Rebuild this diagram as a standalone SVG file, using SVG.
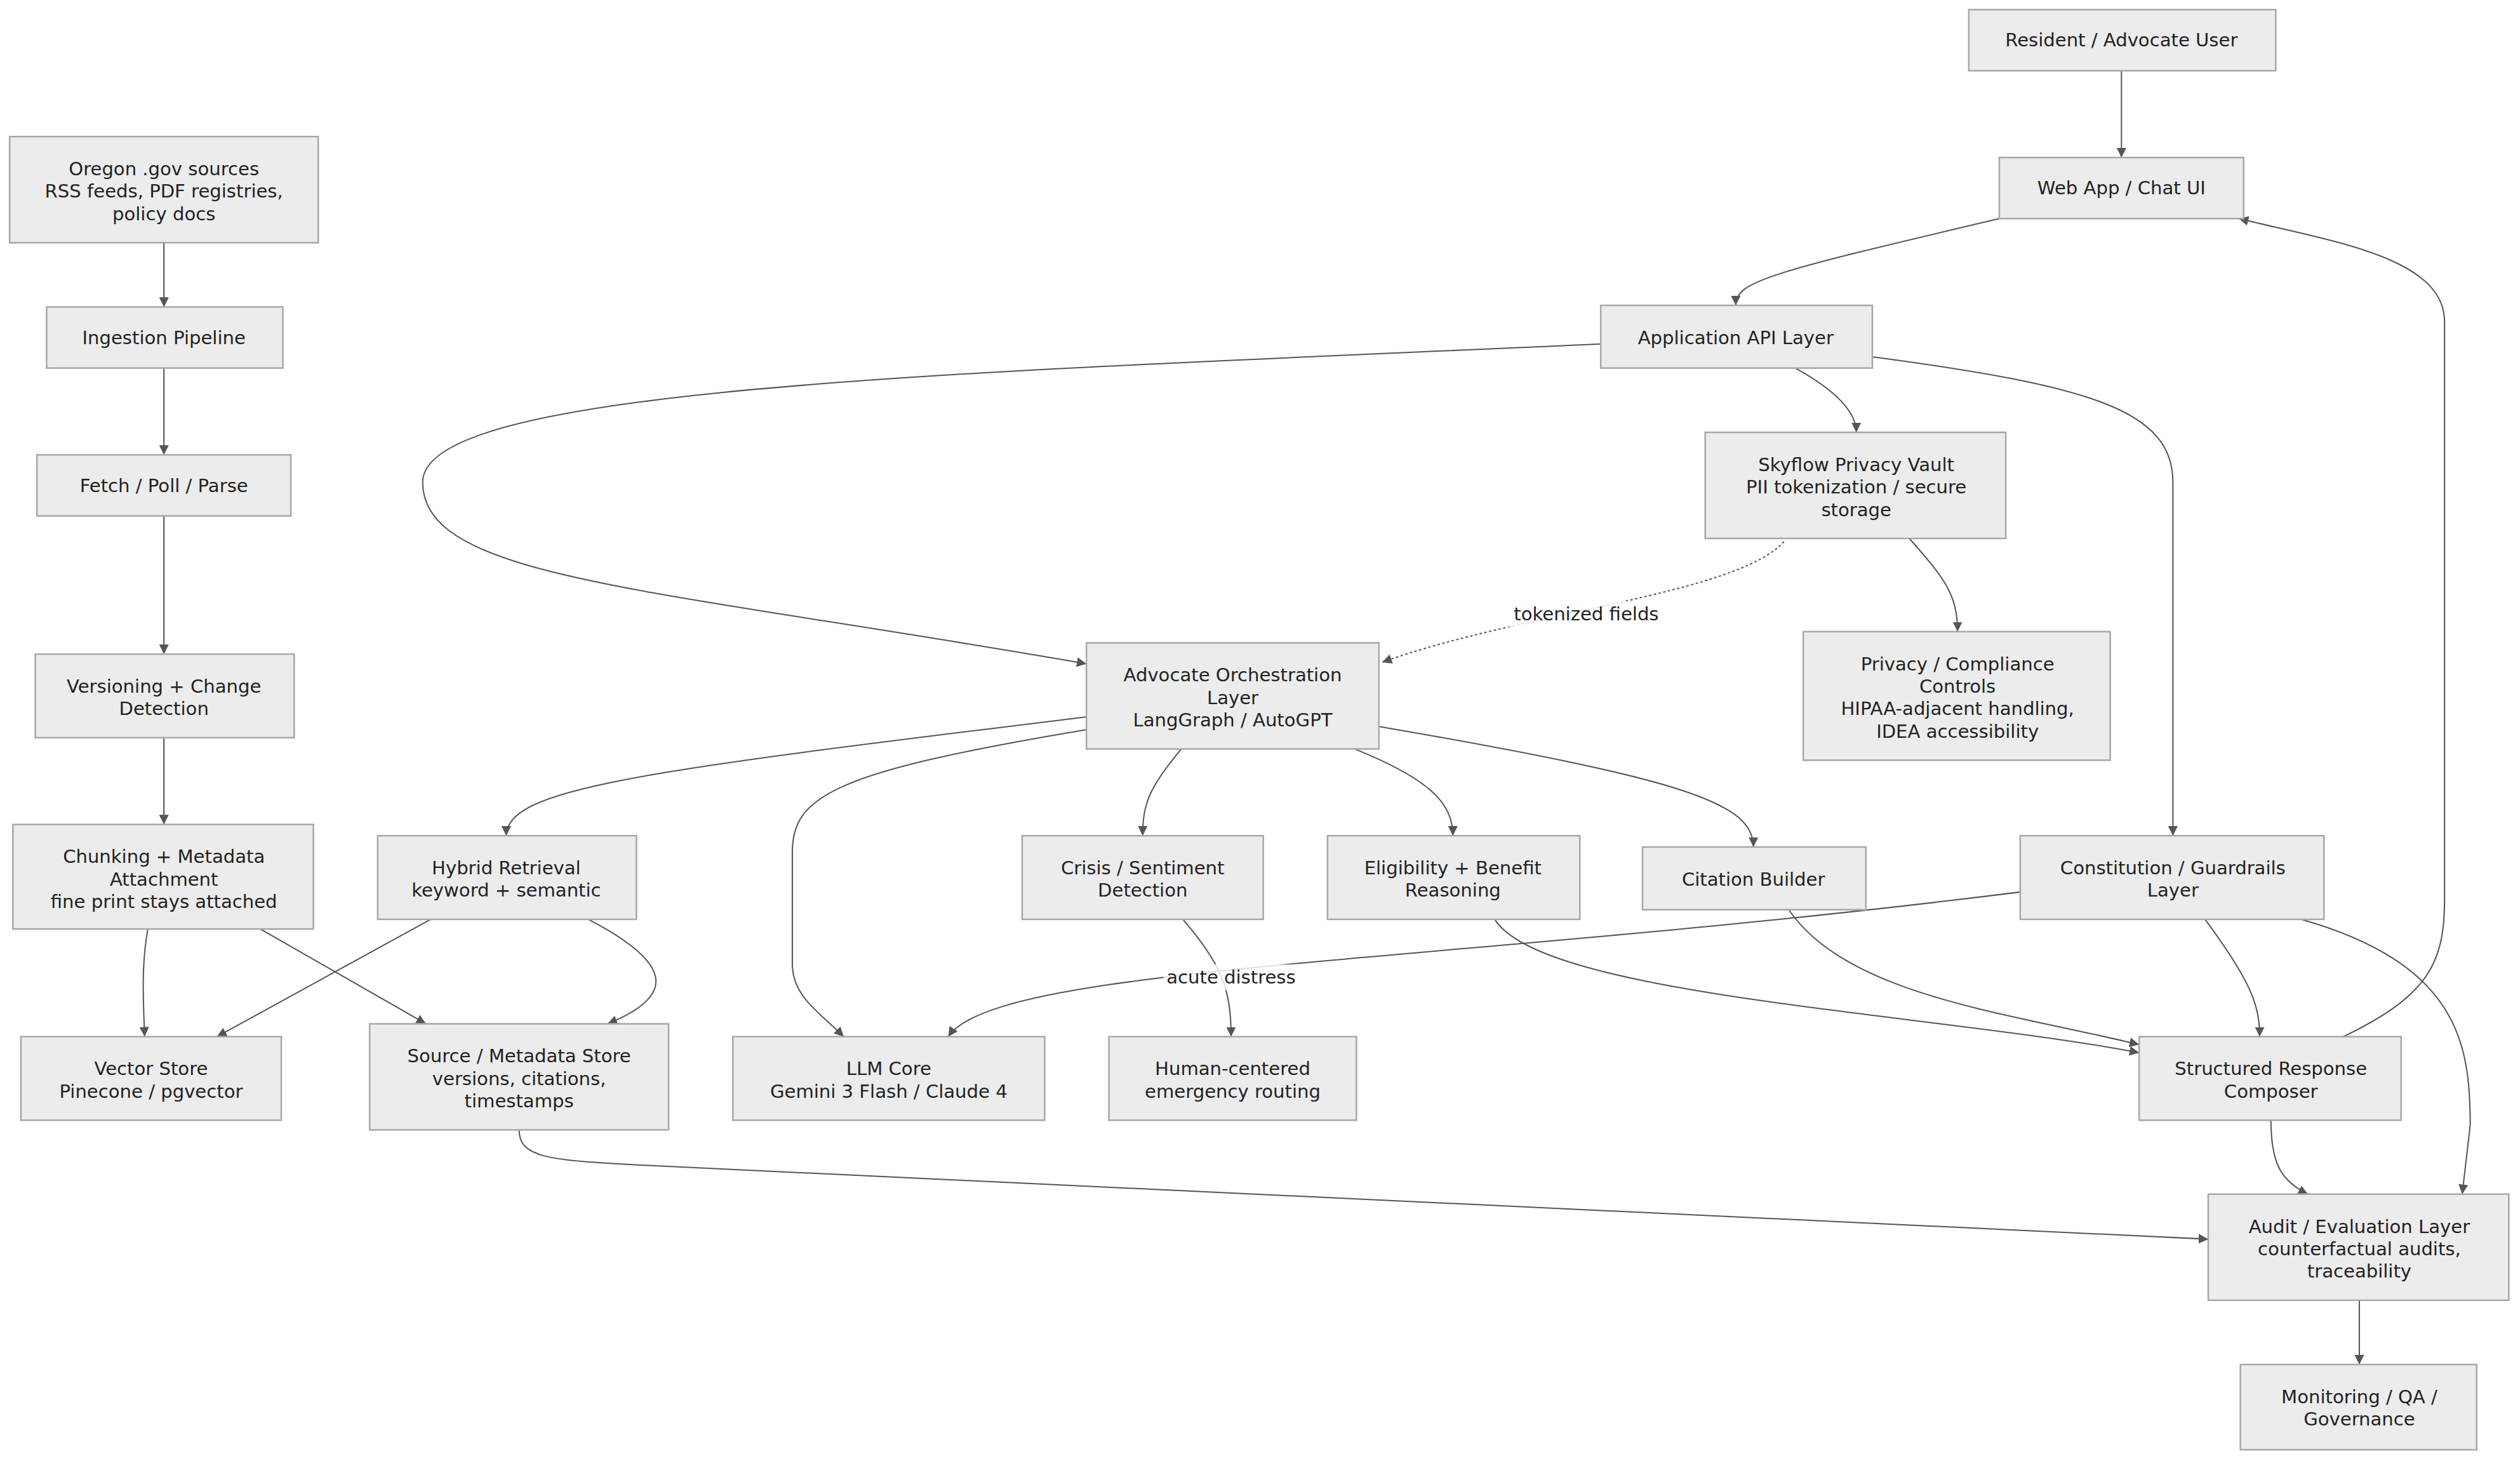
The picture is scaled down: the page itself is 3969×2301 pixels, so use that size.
<svg xmlns="http://www.w3.org/2000/svg" width="3969" height="2301" viewBox="0 0 3969 2301">
<style>
.n rect{fill:#ececec;stroke:#a8a8a8;stroke-width:1}
.n text,.lbl{font-family:"DejaVu Sans","Liberation Sans",sans-serif;font-size:11.5px;fill:#222;text-anchor:middle}
.e path{fill:none;stroke:#555;stroke-width:0.8}
.d{stroke-dasharray:1.5 1.5}
</style>
<defs><marker id="a" viewBox="0 0 10 10" refX="10" refY="5" markerWidth="6" markerHeight="6" markerUnits="userSpaceOnUse" orient="auto"><path d="M0,0L10,5L0,10z" fill="#555"/></marker></defs>
<rect width="3969" height="2301" fill="#fff"/>
<g transform="scale(2.5313)">
<g class="e" marker-end="url(#a)">
<path d="M1320,44L1320,98" marker-end="url(#a)"/>
<path d="M1244,136C1100,170 1080,175 1080,190" marker-end="url(#a)"/>
<path d="M996,214C600,232 263,240 263,300C263,360 400,365 676,413" marker-end="url(#a)"/>
<path d="M1117,229Q1155,250 1155,269" marker-end="url(#a)"/>
<path d="M1165,222C1300,240 1352,255 1352,300L1352,520" marker-end="url(#a)"/>
<path class="d" d="M1110,337C1080,370 950,380 860,412" marker-end="url(#a)"/>
<path d="M1188,335C1210,360 1218,370 1218,393" marker-end="url(#a)"/>
<path d="M676,446C400,480 315,490 315,520" marker-end="url(#a)"/>
<path d="M676,454C520,480 493,495 493,530L493,600C493,620 510,630 525,645" marker-end="url(#a)"/>
<path d="M735,466C715,490 711,500 711,520" marker-end="url(#a)"/>
<path d="M843,466C890,485 904,500 904,520" marker-end="url(#a)"/>
<path d="M858,452C1050,485 1091,500 1091,527" marker-end="url(#a)"/>
<path d="M736,572C760,600 766,615 766,645" marker-end="url(#a)"/>
<path d="M1257,555C900,600 620,600 590,645" marker-end="url(#a)"/>
<path d="M930,572C960,620 1200,630 1331,655" marker-end="url(#a)"/>
<path d="M1113,566C1150,620 1250,630 1331,650" marker-end="url(#a)"/>
<path d="M1372,572C1400,610 1406,625 1406,645" marker-end="url(#a)"/>
<path d="M1432,572C1530,600 1537,650 1537,700L1532,743" marker-end="url(#a)"/>
<path d="M1458,645C1510,620 1521,600 1521,560L1521,200C1521,160 1450,150 1393,136" marker-end="url(#a)"/>
<path d="M1413,697C1413,725 1420,735 1436,743" marker-end="url(#a)"/>
<path d="M1468,809L1468,849" marker-end="url(#a)"/>
<path d="M323,703C323,720 340,722 400,725L1374,771" marker-end="url(#a)"/>
<path d="M102,151L102,191" marker-end="url(#a)"/>
<path d="M102,229L102,283" marker-end="url(#a)"/>
<path d="M102,321L102,407" marker-end="url(#a)"/>
<path d="M102,459L102,513" marker-end="url(#a)"/>
<path d="M92,578C88,600 89,620 90,645" marker-end="url(#a)"/>
<path d="M162,578L265,637" marker-end="url(#a)"/>
<path d="M268,572L135,645" marker-end="url(#a)"/>
<path d="M366,572C420,600 420,620 378,637" marker-end="url(#a)"/>
<rect x="938" y="374" width="98" height="16" fill="#fff" opacity="0.8"/>
<text class="lbl" x="987" y="386">tokenized fields</text>
<rect x="724" y="600" width="84" height="16" fill="#fff" opacity="0.8"/>
<text class="lbl" x="766" y="612">acute distress</text>
</g>
<g id="resident" class="n"><rect x="1225" y="6" width="191" height="38"/><text x="1320" y="29">Resident / Advocate User</text></g>
<g id="webapp" class="n"><rect x="1244" y="98" width="152" height="38"/><text x="1320" y="121">Web App / Chat UI</text></g>
<g id="api" class="n"><rect x="996" y="190" width="169" height="39"/><text x="1080" y="214">Application API Layer</text></g>
<g id="skyflow" class="n"><rect x="1061" y="269" width="187" height="66"/><text x="1155" y="293">Skyflow Privacy Vault</text><text x="1155" y="307">PII tokenization / secure</text><text x="1155" y="321">storage</text></g>
<g id="privacy" class="n"><rect x="1122" y="393" width="191" height="80"/><text x="1218" y="417">Privacy / Compliance</text><text x="1218" y="431">Controls</text><text x="1218" y="445">HIPAA-adjacent handling,</text><text x="1218" y="459">IDEA accessibility</text></g>
<g id="orch" class="n"><rect x="676" y="400" width="182" height="66"/><text x="767" y="424">Advocate Orchestration</text><text x="767" y="438">Layer</text><text x="767" y="452">LangGraph / AutoGPT</text></g>
<g id="constitution" class="n"><rect x="1257" y="520" width="189" height="52"/><text x="1352" y="544">Constitution / Guardrails</text><text x="1352" y="558">Layer</text></g>
<g id="citation" class="n"><rect x="1022" y="527" width="139" height="39"/><text x="1091" y="551">Citation Builder</text></g>
<g id="eligibility" class="n"><rect x="826" y="520" width="157" height="52"/><text x="904" y="544">Eligibility + Benefit</text><text x="904" y="558">Reasoning</text></g>
<g id="crisis" class="n"><rect x="636" y="520" width="150" height="52"/><text x="711" y="544">Crisis / Sentiment</text><text x="711" y="558">Detection</text></g>
<g id="hybrid" class="n"><rect x="235" y="520" width="161" height="52"/><text x="315" y="544">Hybrid Retrieval</text><text x="315" y="558">keyword + semantic</text></g>
<g id="oregon" class="n"><rect x="6" y="85" width="192" height="66"/><text x="102" y="109">Oregon .gov sources</text><text x="102" y="123">RSS feeds, PDF registries,</text><text x="102" y="137">policy docs</text></g>
<g id="ingestion" class="n"><rect x="29" y="191" width="147" height="38"/><text x="102" y="214">Ingestion Pipeline</text></g>
<g id="fetch" class="n"><rect x="23" y="283" width="158" height="38"/><text x="102" y="306">Fetch / Poll / Parse</text></g>
<g id="versioning" class="n"><rect x="22" y="407" width="161" height="52"/><text x="102" y="431">Versioning + Change</text><text x="102" y="445">Detection</text></g>
<g id="chunking" class="n"><rect x="8" y="513" width="187" height="65"/><text x="102" y="537">Chunking + Metadata</text><text x="102" y="551">Attachment</text><text x="102" y="565">fine print stays attached</text></g>
<g id="vector" class="n"><rect x="13" y="645" width="162" height="52"/><text x="94" y="669">Vector Store</text><text x="94" y="683">Pinecone / pgvector</text></g>
<g id="source" class="n"><rect x="230" y="637" width="186" height="66"/><text x="323" y="661">Source / Metadata Store</text><text x="323" y="675">versions, citations,</text><text x="323" y="689">timestamps</text></g>
<g id="llm" class="n"><rect x="456" y="645" width="194" height="52"/><text x="553" y="669">LLM Core</text><text x="553" y="683">Gemini 3 Flash / Claude 4</text></g>
<g id="human" class="n"><rect x="690" y="645" width="154" height="52"/><text x="767" y="669">Human-centered</text><text x="767" y="683">emergency routing</text></g>
<g id="structured" class="n"><rect x="1331" y="645" width="163" height="52"/><text x="1413" y="669">Structured Response</text><text x="1413" y="683">Composer</text></g>
<g id="audit" class="n"><rect x="1374" y="743" width="187" height="66"/><text x="1468" y="767">Audit / Evaluation Layer</text><text x="1468" y="781">counterfactual audits,</text><text x="1468" y="795">traceability</text></g>
<g id="monitoring" class="n"><rect x="1394" y="849" width="147" height="53"/><text x="1468" y="873">Monitoring / QA /</text><text x="1468" y="887">Governance</text></g>
</g>
</svg>
